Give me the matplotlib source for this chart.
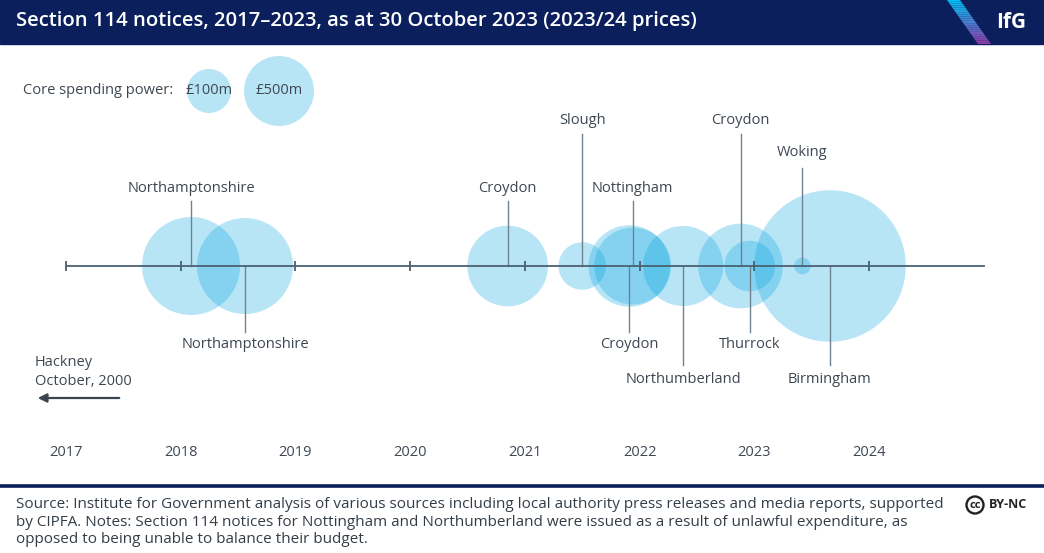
import numpy as np
import matplotlib
matplotlib.use("Agg")
import matplotlib.pyplot as plt
from matplotlib.patches import Rectangle, Circle, Polygon

plt.rcParams['font.family'] = ['Open Sans', 'DejaVu Sans']

# data
councils = ["Northamptonshire", "Northamptonshire", "Croydon", "Slough", "Croydon",
            "Nottingham", "Northumberland", "Croydon", "Thurrock", "Woking", "Birmingham"]
notice_year = [2018.09, 2018.56, 2020.85, 2021.50, 2021.91,
               2021.94, 2022.38, 2022.88, 2022.96, 2023.42, 2023.66]
spending_m = [417, 400, 282, 98, 288, 257, 278, 311, 111, 12, 997]
years = [2017, 2018, 2019, 2020, 2021, 2022, 2023, 2024]
legend_labels = ["£100m", "£500m"]

# label placement: +n above the line, -n below
label_level = [1, -1, 1, 3, -1, 1, -2, 3, -1, 2, -2]

NAVY = "#0b1f5c"
BUBBLE = "#00a3e0"
TEXT = "#3d4752"
AXIS = "#4b6173"
LEADER = "#6e8292"

W, H = 1044, 553
fig = plt.figure(figsize=(W / 100, H / 100), dpi=100)

# timeline axes: x in years, y in pixels relative to the line
ax = fig.add_axes([0, 0, 1, 1])
px_per_year = (869 - 66) / 7
x0 = 2017 - 66 / px_per_year
ax.set_xlim(x0, x0 + W / px_per_year)
ax.set_ylim(266 - H, 266)
ax.axis("off")

# bubbles, area proportional to spending
r_px = 2.4 * np.sqrt(spending_m)
sizes = (2 * r_px * 0.72) ** 2
ax.scatter(notice_year, np.zeros(len(notice_year)), s=sizes, color=BUBBLE,
           alpha=0.28, linewidths=0, zorder=2)

# main line + ticks
ax.plot([2017, 2025], [0, 0], color=AXIS, lw=1.3, zorder=4)
ax.vlines(years, -5, 5, color=AXIS, lw=1.3, zorder=4)
for y in years:
    ax.text(y, -187, str(y), ha="center", va="center", fontsize=10.5, color=TEXT)

# leaders and labels
above = {1: (65, 9), 2: (98, 12), 3: (132, 10)}
below = {1: (66, 5), 2: (99, 7)}
for name, yr, lvl in zip(councils, notice_year, label_level):
    if lvl > 0:
        top, gap = above[lvl]
        ax.plot([yr, yr], [0, top], color=LEADER, lw=1, zorder=3)
        ax.text(yr, top + gap, name, ha="center", va="baseline", fontsize=10.5, color=TEXT)
    else:
        bot, gap = below[-lvl]
        ax.plot([yr, yr], [0, -bot], color=LEADER, lw=1, zorder=3)
        ax.text(yr, -bot - gap, name, ha="center", va="top", fontsize=10.5, color=TEXT)

# overlay in pixel coordinates for header, legend, footer
fr = fig.add_axes([0, 0, 1, 1])
fr.set_xlim(0, W)
fr.set_ylim(H, 0)
fr.axis("off")
fr.patch.set_alpha(0)

fr.add_patch(Rectangle((0, 0), W, 44, color=NAVY, zorder=1))
fr.text(16, 21, "Section 114 notices, 2017\u20132023, as at 30 October 2023 (2023/24 prices)",
        color="white", fontsize=14.6, fontweight="semibold", va="center", ha="left", zorder=3)

# IfG stripe with gradient
n = 24
for i in range(n):
    t0, t1 = i / n, (i + 1) / n
    c = np.array([0.0, 0.75, 0.95]) * (1 - t0) + np.array([0.58, 0.22, 0.65]) * t0
    ya, yb = 44 * t0, 44 * t1
    xa, xb = 947 + 31 * t0, 947 + 31 * t1
    fr.add_patch(Polygon([(xa, ya), (xa + 13, ya), (xb + 13, yb), (xb, yb)],
                         closed=True, color=c, lw=0, zorder=2))
fr.text(1011, 22, "IfG", color="white", fontsize=15, fontweight="bold",
        ha="center", va="center", zorder=3)

# size legend
fr.text(23, 90, "Core spending power:", fontsize=10.5, color=TEXT, va="center", ha="left")
for lab, cx, rr in zip(legend_labels, [209, 279], [22, 35]):
    fr.add_patch(Circle((cx, 91), rr, color=BUBBLE, alpha=0.28, lw=0))
    fr.text(cx, 91, lab, fontsize=10.5, color=TEXT, ha="center", va="center")

# Hackney arrow
fr.text(35, 372, "Hackney\nOctober, 2000", fontsize=10.5, color=TEXT,
        ha="left", va="center", linespacing=1.3)
fr.annotate("", xy=(35, 398), xytext=(122, 398),
            arrowprops=dict(arrowstyle="-|>", color="#3a4550", lw=1.6, mutation_scale=13))

# footer
fr.plot([0, W], [486, 486], color=NAVY, lw=2.6)
footer = ("Source: Institute for Government analysis of various sources including local authority press releases and media reports, supported\n"
          "by CIPFA. Notes: Section 114 notices for Nottingham and Northumberland were issued as a result of unlawful expenditure, as\n"
          "opposed to being unable to balance their budget.")
fr.text(16, 497, footer, fontsize=11, color="#333d47", ha="left", va="top",
        linespacing=1.24)
fr.add_patch(Circle((975, 505), 8.5, fill=False, ec="#222222", lw=1.7))
fr.text(975, 505.5, "cc", fontsize=8, fontweight="bold", color="#222222", ha="center", va="center")
fr.text(989, 505, "BY-NC", fontsize=9, fontweight="bold", color="#222222", ha="left", va="center")

fig.savefig("out.png", dpi=100, facecolor="white")
